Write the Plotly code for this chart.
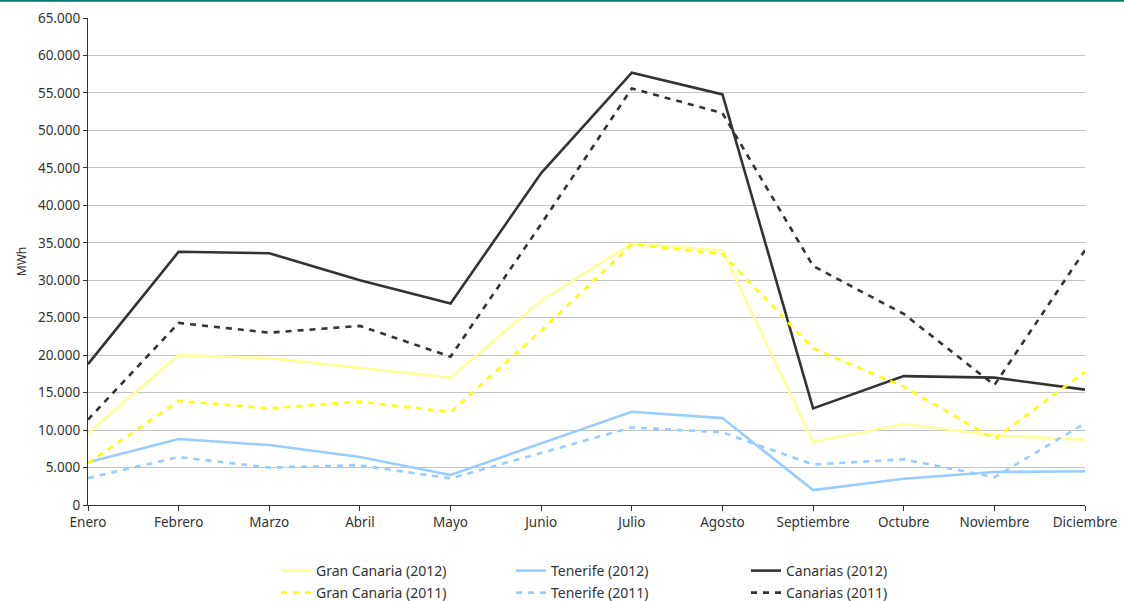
import plotly.graph_objects as go

months = ["Enero", "Febrero", "Marzo", "Abril", "Mayo", "Junio", "Julio",
          "Agosto", "Septiembre", "Octubre", "Noviembre", "Diciembre"]

gran_canaria_2012 = [9600, 20000, 19600, 18300, 17000, 27300, 34900, 34000, 8400, 10800, 9300, 8700]
tenerife_2012 = [5700, 8800, 8000, 6400, 4000, 8200, 12450, 11600, 2000, 3500, 4400, 4500]
canarias_2012 = [18800, 33800, 33600, 30000, 26900, 44300, 57700, 54800, 12900, 17200, 17000, 15400]

gran_canaria_2011 = [5600, 13900, 12900, 13800, 12400, 23300, 34800, 33500, 20900, 15800, 8800, 17800]
tenerife_2011 = [3600, 6400, 5000, 5300, 3550, 7000, 10350, 9700, 5400, 6100, 3700, 10900]
canarias_2011 = [11400, 24300, 23000, 23900, 19800, 37500, 55600, 52300, 31900, 25500, 16000, 34000]

DASH = "6px,6px"

series = [
    ("Gran Canaria (2012)", gran_canaria_2012, "#ffff99", "solid", "legend"),
    ("Tenerife (2012)", tenerife_2012, "#99ccff", "solid", "legend"),
    ("Canarias (2012)", canarias_2012, "#333333", "solid", "legend"),
    ("Gran Canaria (2011)", gran_canaria_2011, "#ffff00", DASH, "legend2"),
    ("Tenerife (2011)", tenerife_2011, "#99ccff", DASH, "legend2"),
    ("Canarias (2011)", canarias_2011, "#333333", DASH, "legend2"),
]

fig = go.Figure()
for name, vals, color, dash, leg in series:
    fig.add_trace(go.Scatter(
        x=months, y=vals, name=name, mode="lines", legend=leg,
        line=dict(color=color, width=2.6, dash=dash),
    ))

font = dict(family="Noto Sans, Open Sans, sans-serif", size=13.5, color="#333333")
legend_common = dict(
    orientation="h", xanchor="left", yanchor="middle",
    xref="container", yref="container", x=276 / 1124,
    font=dict(font, size=14), entrywidth=190, entrywidthmode="pixels",
    bgcolor="rgba(0,0,0,0)", itemclick=False,
)

fig.update_layout(
    width=1124, height=601,
    margin=dict(l=88, r=39, t=18, b=96, autoexpand=False),
    paper_bgcolor="white", plot_bgcolor="white",
    separators=",.",
    font=font,
    showlegend=True,
    legend=dict(legend_common, y=1 - 571 / 601),
    legend2=dict(legend_common, y=1 - 593 / 601),
    xaxis=dict(
        type="category", range=[0, 11], showgrid=False, automargin=False,
        showline=True, linecolor="#333333", linewidth=1.3,
        ticks="outside", ticklen=5, tickcolor="#333333",
        tickfont=font,
    ),
    yaxis=dict(
        range=[0, 65000], dtick=5000, tickformat=",.0f", automargin=False,
        showgrid=True, gridcolor="#c4c4c4", gridwidth=1,
        showline=True, linecolor="#333333", linewidth=1.3,
        ticks="outside", ticklen=4, tickcolor="#333333",
        tickfont=font, zeroline=False,
        title=dict(text="MWh", font=dict(family=font["family"], size=12, color="#333333"), standoff=8),
    ),
    shapes=[dict(
        type="line", xref="paper", yref="paper",
        x0=-88 / 997, x1=1036 / 997, y0=1 + 17.2 / 487, y1=1 + 17.2 / 487,
        line=dict(color="#007a70", width=2),
    )],
)

# page body has a default 8px margin; drop it so the chart sits at the window edge
fig.write_html("out.html", config={"displayModeBar": False},
               post_script="document.body.style.margin='0';")
